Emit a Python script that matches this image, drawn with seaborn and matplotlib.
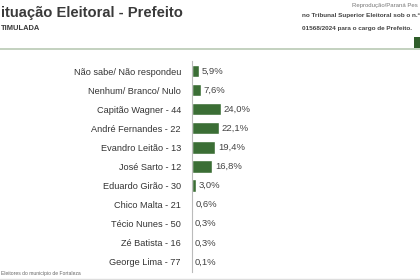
import matplotlib
matplotlib.use("Agg")
import matplotlib.pyplot as plt
import seaborn as sns
import pandas as pd
from matplotlib.lines import Line2D
from matplotlib.patches import Rectangle

candidates = ["Não sabe/ Não respondeu", "Nenhum/ Branco/ Nulo", "Capitão Wagner - 44",
              "André Fernandes - 22", "Evandro Leitão - 13", "José Sarto - 12",
              "Eduardo Girão - 30", "Chico Malta - 21", "Técio Nunes - 50",
              "Zé Batista - 16", "George Lima - 77"]
values = [5.9, 7.6, 24.0, 22.1, 19.4, 16.8, 3.0, 0.6, 0.3, 0.3, 0.1]
value_labels = ["5,9%", "7,6%", "24,0%", "22,1%", "19,4%", "16,8%",
                "3,0%", "0,6%", "0,3%", "0,3%", "0,1%"]

sns.set_style("white")
plt.rcParams['font.family'] = ['Liberation Sans', 'DejaVu Sans']

df = pd.DataFrame({"cand": candidates, "val": values})

fig = plt.figure(figsize=(4.2, 2.8), dpi=100)
fig.patch.set_facecolor("white")
W, H = 420, 280
ax = fig.add_axes([192 / W, 1 - 271.5 / H, 220 / W, (271.5 - 61.5) / H])
sns.barplot(data=df, x="val", y="cand", orient="h", color="#3b6e35",
            saturation=1, width=0.64, ax=ax)
ax.set_xlim(0, 220 / 1.21)
ax.set_xlabel("")
ax.set_ylabel("")
ax.set_xticks([])
for s in ["top", "right", "bottom"]:
    ax.spines[s].set_visible(False)
ax.spines["left"].set_color("#bbbbbb")
ax.spines["left"].set_linewidth(0.8)
ax.tick_params(axis="y", length=2, color="#bbbbbb", pad=6, labelsize=6.6, labelcolor="#333333")

for i, (v, lab) in enumerate(zip(values, value_labels)):
    ax.text(v + 2.2, i, lab, va="center", ha="left", fontsize=6.8, color="#444444")

# header texts (the reference screenshot is cropped at its edges)
fig.text(1 / W, 1 - 13 / H, "ituação Eleitoral - Prefeito", fontsize=10.6, fontweight="bold",
         color="#3a3a3a", va="center", ha="left")
fig.text(1 / W, 1 - 28 / H, "TIMULADA", fontsize=5.4, fontweight="bold",
         color="#3a3a3a", va="center", ha="left")
fig.text(352 / W, 1 - 5 / H, "Reprodução/Paraná Pes", fontsize=4.3,
         color="#777777", va="center", ha="left")
fig.text(302 / W, 1 - 15.5 / H, "no Tribunal Superior Eleitoral sob o n.º", fontsize=4.6,
         fontweight="bold", color="#444444", va="center", ha="left")
fig.text(302 / W, 1 - 28.5 / H, "01568/2024 para o cargo de Prefeito.", fontsize=4.6,
         fontweight="bold", color="#444444", va="center", ha="left")
fig.add_artist(Line2D([0, 1], [1 - 48.5 / H, 1 - 48.5 / H], transform=fig.transFigure,
                      color="#b9c9b4", lw=1.2))
fig.add_artist(Rectangle((414 / W, 1 - 48 / H), 8 / W, 11 / H, transform=fig.transFigure,
                         color="#2f5e2a", lw=0))
fig.text(1 / W, 1 - 274 / H, "Eleitores do município de Fortaleza", fontsize=3.6,
         color="#666666", va="center", ha="left")
fig.add_artist(Line2D([0, 1], [1 - 278.5 / H, 1 - 278.5 / H], transform=fig.transFigure,
                      color="#dddddd", lw=1))

fig.savefig("out.png", dpi=100)
